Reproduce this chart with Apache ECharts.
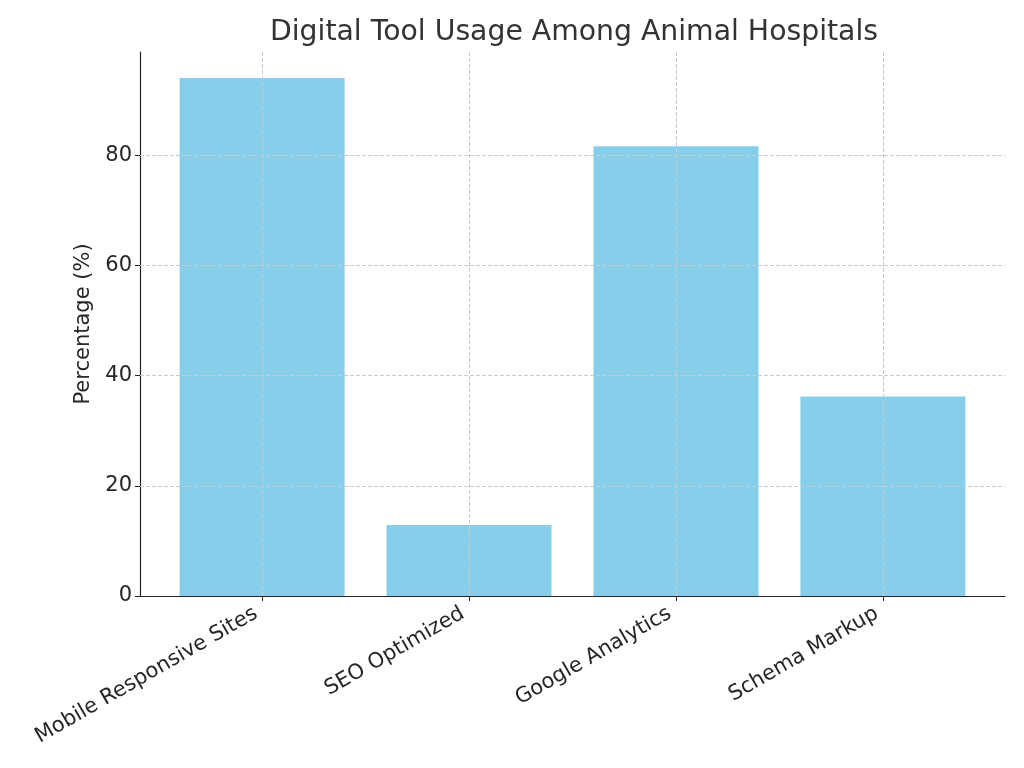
<!DOCTYPE html>
<html>
<head>
    <meta charset='utf-8' />
    <title>Digital Tool Usage Among Animal Hospitals</title>
    <script src="https://cdn.jsdelivr.net/npm/echarts@6/dist/echarts.min.js"></script>
</head>
<body style='margin:0;width:1024px;height:768px;background:#fff;'>
<div id='bar' style='width:1024px;height:768px;'></div>

<script type='text/javascript'>
    // data
    var categories = ['Mobile Responsive Sites', 'SEO Optimized', 'Google Analytics', 'Schema Markup'];
    var usage = [94, 12.9, 81.6, 36.2];
    var yTicks = [0, 20, 40, 60, 80];
    var xTicks = [0, 1, 2, 3];
    var yMax = 98.7;

    var font = 'DejaVu Sans';

    // grid lines sit on top of the bars, so draw them as markLines
    var gridLines = yTicks.slice(1).map(function (v) { return { yAxis: v }; });
    xTicks.forEach(function (v) {
        gridLines.push([{ coord: [v, 0] }, { coord: [v, yMax] }]);
    });

    // matplotlib anchors rotated labels a bit left of the tick
    var labelPos = xTicks.map(function (v) { return v - 0.03; });

    var option = {
        animation: false,
        title: {
            text: 'Digital Tool Usage Among Animal Hospitals',
            left: 569,
            textAlign: 'center',
            top: 14,
            textStyle: { fontFamily: font, fontSize: 28.3, fontWeight: 'normal', color: '#333333' }
        },
        grid: { left: 140, right: 19, top: 52, bottom: 172, containLabel: false },
        xAxis: {
            type: 'value',
            min: -0.59,
            max: 3.59,
            splitLine: { show: false },
            axisLine: { show: true, onZero: false, lineStyle: { color: '#262626', width: 1.2 } },
            axisTick: { show: true, length: 5, customValues: xTicks, lineStyle: { color: '#262626' } },
            axisLabel: {
                customValues: labelPos,
                rotate: 30,
                margin: 16,
                fontFamily: font,
                fontSize: 21,
                color: '#262626',
                formatter: function (v) { return categories[Math.round(v)]; }
            }
        },
        yAxis: {
            type: 'value',
            min: 0,
            max: yMax,
            name: 'Percentage (%)',
            nameLocation: 'middle',
            nameGap: 40,
            nameTextStyle: { fontFamily: font, fontSize: 21, color: '#262626' },
            splitLine: { show: false },
            axisLine: { show: true, onZero: false, lineStyle: { color: '#262626', width: 1.2 } },
            axisTick: { show: true, length: 5, customValues: yTicks, lineStyle: { color: '#262626' } },
            axisLabel: { customValues: yTicks, margin: 8, fontFamily: font, fontSize: 21, color: '#262626' }
        },
        series: [
            {
                type: 'bar',
                data: usage.map(function (v, i) { return [i, v]; }),
                barWidth: 165,
                itemStyle: { color: '#87CEEB' },
                markLine: {
                    silent: true,
                    symbol: ['none', 'none'],
                    label: { show: false },
                    lineStyle: { color: '#cbcbcb', type: [4, 2], width: 1 },
                    emphasis: { disabled: true },
                    data: gridLines
                }
            }
        ]
    };

    var myChart = echarts.init(document.getElementById('bar'));
    myChart.setOption(option);
</script>
</body>
</html>
